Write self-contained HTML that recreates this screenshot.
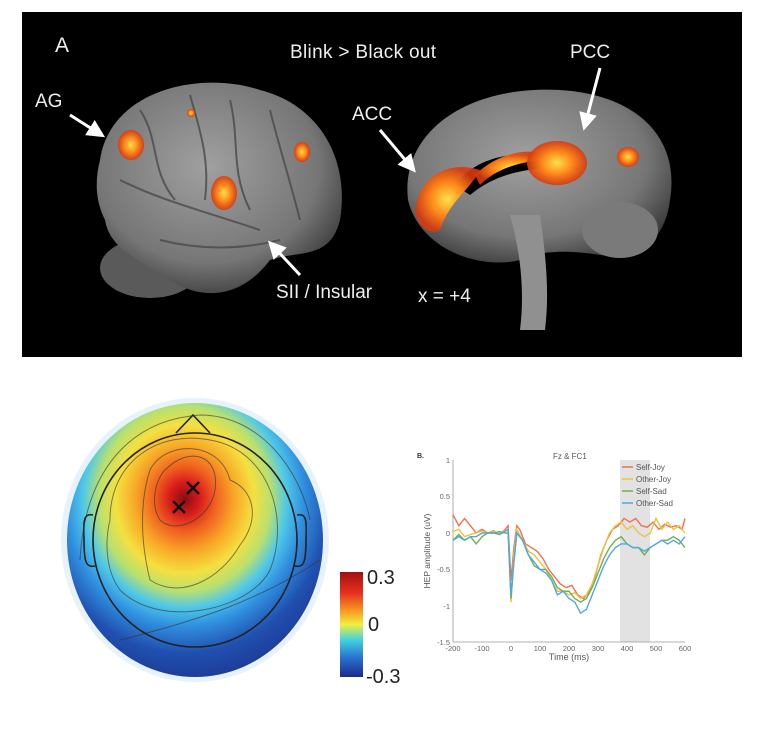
<!DOCTYPE html>
<html><head><meta charset="utf-8"><style>
html,body{margin:0;padding:0;background:#fff;width:760px;height:746px;overflow:hidden;font-family:"Liberation Sans",sans-serif}
</style></head><body>
<svg width="760" height="746" viewBox="0 0 760 746" xmlns="http://www.w3.org/2000/svg">
<defs>
<radialGradient id="br" cx="45%" cy="40%" r="65%"><stop offset="0" stop-color="#a0a0a0"/><stop offset="0.7" stop-color="#767676"/><stop offset="1" stop-color="#3a3a3a"/></radialGradient>
<radialGradient id="blob" cx="50%" cy="50%" r="50%"><stop offset="0" stop-color="#ffe04a"/><stop offset="0.5" stop-color="#ff8a1a"/><stop offset="1" stop-color="#d83a10" stop-opacity="0.9"/></radialGradient>
<radialGradient id="topo" cx="46%" cy="35%" r="75%"><stop offset="0" stop-color="#8a0c10"/><stop offset="0.08" stop-color="#d81c1c"/><stop offset="0.16" stop-color="#f06020"/><stop offset="0.26" stop-color="#f8a828"/><stop offset="0.36" stop-color="#f4e040"/><stop offset="0.45" stop-color="#b8e070"/><stop offset="0.53" stop-color="#50c8e8"/><stop offset="0.62" stop-color="#3090e0"/><stop offset="0.75" stop-color="#2050b0"/><stop offset="1" stop-color="#1a2a80"/></radialGradient>
<linearGradient id="cb" x1="0" y1="0" x2="0" y2="1"><stop offset="0" stop-color="#a01010"/><stop offset="0.2" stop-color="#e83020"/><stop offset="0.38" stop-color="#f8a020"/><stop offset="0.5" stop-color="#f0f040"/><stop offset="0.65" stop-color="#40d0e0"/><stop offset="0.82" stop-color="#2a70d0"/><stop offset="1" stop-color="#1a2a8a"/></linearGradient>
<marker id="ah" markerWidth="6" markerHeight="6" refX="4" refY="3" orient="auto"><path d="M0,0 L6,3 L0,6 z" fill="#fff"/></marker>
</defs>
<rect x="22" y="12" width="720" height="345" fill="#000"/>
<ellipse cx="150" cy="268" rx="50" ry="30" fill="#5a5a5a"/>
<path d="M100,160 C110,90 200,70 260,90 C320,105 350,160 340,220 C330,260 300,250 270,260 C240,300 200,300 170,280 C140,260 110,250 105,220 C95,200 95,180 100,160 z" fill="url(#br)"/>
<g stroke="#4a4a4a" stroke-width="2" fill="none" opacity="0.8">
<path d="M140,110 C160,140 150,170 175,200"/><path d="M190,95 C200,130 210,160 205,200"/><path d="M230,100 C240,140 230,170 250,210"/><path d="M270,110 C280,150 290,180 300,220"/><path d="M120,180 C160,200 200,210 260,230"/><path d="M160,240 C200,250 240,250 280,240"/>
</g>
<ellipse cx="131" cy="145" rx="13" ry="15" fill="url(#blob)"/>
<ellipse cx="224" cy="193" rx="13" ry="17" fill="url(#blob)"/>
<ellipse cx="302" cy="152" rx="8" ry="10" fill="url(#blob)"/>
<ellipse cx="191" cy="113" rx="4" ry="4" fill="url(#blob)"/>
<path d="M408,200 C400,130 470,85 560,90 C640,95 680,140 670,200 C665,240 640,260 600,255 C570,250 540,250 520,260 C480,270 420,250 408,200 z" fill="url(#br)"/>
<path d="M510,215 C520,250 525,290 520,330 L545,330 C550,290 545,250 540,215 z" fill="#909090"/>
<ellipse cx="620" cy="230" rx="38" ry="28" fill="#7a7a7a"/>
<path d="M455,185 C480,150 540,145 580,170 C540,165 500,170 470,195 z" fill="#000"/>
<path d="M415,210 C420,175 450,160 480,170 C470,190 450,200 440,230 C430,235 418,228 415,210 z" fill="url(#blob)"/>
<path d="M475,175 C500,150 540,145 550,160 C530,160 500,165 480,185 z" fill="url(#blob)"/>
<ellipse cx="557" cy="163" rx="30" ry="22" fill="url(#blob)"/>
<ellipse cx="628" cy="157" rx="11" ry="10" fill="url(#blob)"/>
<g fill="#eee" font-size="19">
<text x="55" y="52" font-size="21">A</text>
<text x="290" y="58" textLength="146">Blink &gt;  Black out</text>
<text x="570" y="58">PCC</text>
<text x="35" y="107">AG</text>
<text x="352" y="120">ACC</text>
<text x="276" y="298">SII / Insular</text>
<text x="418" y="302">x = +4</text>
</g>
<g stroke="#fff" stroke-width="3" marker-end="url(#ah)">
<line x1="70" y1="115" x2="100" y2="134"/>
<line x1="600" y1="68" x2="585" y2="125"/>
<line x1="380" y1="130" x2="412" y2="168"/>
<line x1="300" y1="275" x2="272" y2="245"/>
</g>
<ellipse cx="195" cy="540" rx="134" ry="142" fill="#e8f2fa"/>
<ellipse cx="195" cy="540" rx="128" ry="137" fill="url(#topo)"/>
<g fill="none" stroke="#333" stroke-width="1" opacity="0.6">
<path d="M165,470 C190,445 220,455 215,490 C210,520 175,535 160,520 C150,505 155,480 165,470 z"/>
<path d="M150,470 C165,440 220,440 230,480 C255,490 260,520 240,545 C220,580 180,600 150,580 C140,540 140,500 150,470 z"/>
<path d="M110,520 C110,460 160,430 210,440 C270,450 290,520 270,570 C250,610 160,630 120,590 C105,570 105,540 110,520 z"/>
<path d="M80,560 C85,470 130,420 200,415 C260,415 300,470 310,520"/>
<path d="M120,640 C200,620 260,600 320,560"/>
</g>
<ellipse cx="195" cy="540" rx="102" ry="107" fill="none" stroke="#222" stroke-width="1.6"/>
<path d="M176,433 L193,415 L210,433" fill="none" stroke="#222" stroke-width="1.6"/>
<path d="M93,515 C84,513 83,520 84,540 C84,562 86,568 95,566" fill="none" stroke="#222" stroke-width="1.6"/>
<path d="M297,515 C306,513 307,520 306,540 C306,562 304,568 295,566" fill="none" stroke="#222" stroke-width="1.6"/>
<g stroke="#111" stroke-width="2.5">
<line x1="187" y1="482" x2="199" y2="494"/><line x1="199" y1="482" x2="187" y2="494"/>
<line x1="173" y1="501" x2="185" y2="513"/><line x1="185" y1="501" x2="173" y2="513"/>
</g>
<rect x="340" y="572" width="23" height="105" fill="url(#cb)"/>
<g font-size="20" fill="#222"><text x="367" y="584">0.3</text><text x="368" y="631">0</text><text x="366" y="683">-0.3</text></g>
<rect x="620" y="460" width="30" height="182" fill="#e2e2e2"/>
<g stroke="#999" stroke-width="0.8" fill="none"><line x1="453" y1="460" x2="453" y2="642"/><line x1="453" y1="642" x2="685" y2="642"/></g>
<g font-size="7.5" fill="#666" text-anchor="end">
<text x="450" y="463">1</text><text x="450" y="499">0.5</text><text x="450" y="536">0</text><text x="450" y="572">-0.5</text><text x="450" y="609">-1</text><text x="450" y="645">-1.5</text>
</g>
<g font-size="7.5" fill="#666" text-anchor="middle">
<text x="453" y="651">-200</text><text x="482" y="651">-100</text><text x="511" y="651">0</text><text x="540" y="651">100</text><text x="569" y="651">200</text><text x="598" y="651">300</text><text x="627" y="651">400</text><text x="656" y="651">500</text><text x="685" y="651">600</text>
</g>
<text x="569" y="660" font-size="9" fill="#555" text-anchor="middle">Time (ms)</text>
<text x="0" y="0" font-size="8.5" fill="#555" text-anchor="middle" transform="translate(430,551) rotate(-90)">HEP amplitude (uV)</text>
<text x="417" y="458" font-size="7" fill="#333" font-weight="bold">B.</text>
<text x="553" y="459" font-size="8" fill="#555">Fz &amp; FC1</text>
<g transform="translate(511,533) scale(0.29,-72.8)" fill="none" stroke-width="1.4">
<polyline vector-effect="non-scaling-stroke" stroke="#f07050" points="-200,.25 -180,.1 -160,.2 -140,.1 -120,0 -100,.05 -80,0 -60,.03 -40,-.02 -20,.05 -10,.1 0,-.65 10,-.2 20,.1 30,.05 50,-.15 70,-.2 90,-.25 110,-.35 130,-.5 150,-.6 170,-.7 190,-.75 210,-.72 230,-.85 250,-.9 270,-.8 290,-.6 310,-.3 330,-.1 350,.05 370,.1 390,.2 410,.15 430,.2 450,.1 470,.08 490,.15 510,.05 530,.12 550,.08 570,.1 590,.05 600,.2"/>
<polyline vector-effect="non-scaling-stroke" stroke="#f0c040" points="-200,.02 -180,.05 -160,-.05 -140,-.02 -120,0 -100,.03 -80,0 -60,.02 -40,0 -20,.03 -10,.05 0,-.95 10,-.3 20,.05 40,-.1 60,-.25 80,-.3 100,-.4 120,-.5 140,-.65 160,-.8 180,-.8 200,-.85 220,-.82 240,-.9 260,-.85 280,-.7 300,-.45 320,-.2 340,0 360,.1 380,.15 400,.05 420,.1 440,0 460,-.05 480,0 500,.2 520,.05 540,.15 560,.05 580,.1 600,0"/>
<polyline vector-effect="non-scaling-stroke" stroke="#70b050" points="-200,-.1 -180,-.02 -160,-.1 -140,-.05 -120,-.15 -100,-.05 -80,0 -60,0 -40,.02 -20,0 -10,0 0,-.9 10,-.4 20,0 40,-.1 60,-.3 80,-.45 100,-.5 120,-.5 140,-.6 160,-.75 180,-.8 200,-.8 220,-.9 240,-.95 260,-.9 280,-.75 300,-.55 320,-.35 340,-.2 360,-.1 380,-.05 400,-.15 420,-.2 440,-.2 460,-.3 480,-.2 500,-.15 520,-.1 540,-.1 560,-.05 580,-.1 600,-.2"/>
<polyline vector-effect="non-scaling-stroke" stroke="#50a8e0" points="-200,-.1 -180,-.05 -160,-.1 -140,-.05 -120,-.05 -100,0 -80,0 -60,0 -40,-.02 -20,.02 -10,.05 0,-.85 10,-.4 20,0 40,-.1 60,-.3 80,-.4 100,-.5 120,-.55 140,-.65 160,-.85 180,-.8 200,-.9 220,-.95 240,-1.1 260,-1.05 280,-.85 300,-.65 320,-.45 340,-.3 360,-.2 380,-.15 400,-.15 420,-.2 440,-.2 460,-.25 480,-.2 500,-.15 520,-.1 540,-.15 560,-.1 580,-.15 600,-.05"/>
</g>
<g font-size="8" fill="#555">
<line x1="622" y1="467" x2="633" y2="467" stroke="#f07050" stroke-width="1.5"/><text x="636" y="470">Self-Joy</text>
<line x1="622" y1="479" x2="633" y2="479" stroke="#f0c040" stroke-width="1.5"/><text x="636" y="482">Other-Joy</text>
<line x1="622" y1="491" x2="633" y2="491" stroke="#70b050" stroke-width="1.5"/><text x="636" y="494">Self-Sad</text>
<line x1="622" y1="503" x2="633" y2="503" stroke="#50a8e0" stroke-width="1.5"/><text x="636" y="506">Other-Sad</text>
</g>
</svg>
</body></html>
